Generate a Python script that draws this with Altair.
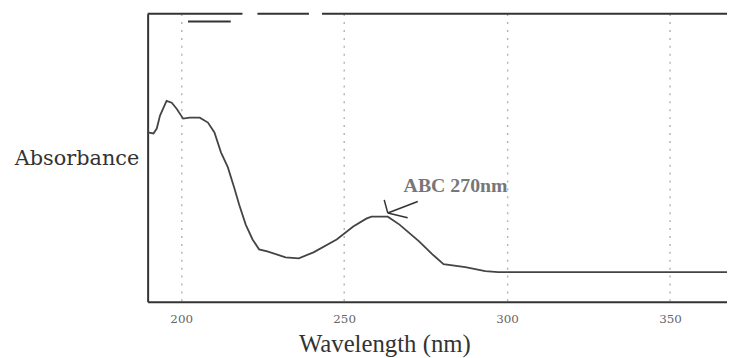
import altair as alt
import pandas as pd

# Spectrum (wavelength in nm, absorbance in arbitrary units)
wavelength = [189.7, 191.5, 192.5, 193.5, 195.5, 197.1, 198.6, 200.6, 202.6, 205.7,
              208.2, 210.2, 212.2, 214.3, 216.3, 217.8, 219.8, 221.9, 223.9, 226.4,
              232.0, 236.1, 240.6, 247.7, 252.8, 256.8, 258.4, 263.4, 267.0, 273.0,
              277.1, 280.5, 287.2, 293.3, 297.3, 367.5]
absorbance = [1.71, 1.70, 1.75, 1.88, 2.03, 2.01, 1.95, 1.85, 1.86, 1.86,
              1.81, 1.71, 1.51, 1.36, 1.15, 0.98, 0.78, 0.63, 0.53, 0.51,
              0.45, 0.44, 0.50, 0.63, 0.76, 0.84, 0.86, 0.86, 0.78, 0.61,
              0.48, 0.38, 0.35, 0.31, 0.30, 0.30]

x_ticks = [200, 250, 300, 350]
x_domain = [189.7, 367.5]
y_domain = [0, 2.91]

# broken top frame line and the short dash below it
top_start = [189.7, 223.4, 243.2, 202.1]
top_end = [218.8, 239.2, 367.5, 215.2]
top_level = [2.91, 2.91, 2.91, 2.83]

# annotation arrow (tail -> tip, and two barbs)
arrow_x1 = [272.6, 262.3, 269.5]
arrow_y1 = [1.013, 1.03, 0.85]
arrow_x2 = [263.4, 263.4, 263.4]
arrow_y2 = [0.897, 0.897, 0.897]
label_text = ["ABC 270nm"]
label_x = [284.2]
label_y = [1.11]

spec = pd.DataFrame({"wl": wavelength, "A": absorbance})
tops = pd.DataFrame({"x1": top_start, "x2": top_end, "y": top_level})
arrows = pd.DataFrame({"x1": arrow_x1, "y1": arrow_y1, "x2": arrow_x2, "y2": arrow_y2})
labels = pd.DataFrame({"t": label_text, "x": label_x, "y": label_y})

xs = alt.Scale(domain=x_domain, nice=False, zero=False)
ys = alt.Scale(domain=y_domain, nice=False, zero=True)

x_axis = alt.Axis(
    values=x_ticks, format="d", ticks=False,
    labelFont="DejaVu Serif", labelFontSize=12, labelColor="#666",
    labelBaseline="middle", labelPadding=17,
    domainColor="#333", domainWidth=2,
    grid=True, gridDash=[2, 6], gridColor="#b5b5b5", gridWidth=1.5,
    title="Wavelength (nm)", titleFont="Liberation Serif", titleFontSize=25,
    titleFontWeight="normal", titleColor="#333",
    titleX=239, titleY=50, titleBaseline="alphabetic", titleAlign="center",
)
y_axis = alt.Axis(
    labels=False, ticks=False, grid=False,
    domainColor="#333", domainWidth=2,
    title="Absorbance", titleAngle=0, titleAlign="right", titleBaseline="middle",
    titleX=-9, titleY=146, titleFont="DejaVu Serif", titleFontSize=21,
    titleFontWeight="normal", titleColor="#333",
)

line = alt.Chart(spec).mark_line(color="#444", strokeWidth=1.8).encode(
    x=alt.X("wl:Q", scale=xs, axis=x_axis),
    y=alt.Y("A:Q", scale=ys, axis=y_axis),
)

top = alt.Chart(tops).mark_rule(color="#333", strokeWidth=2).encode(
    x=alt.X("x1:Q", scale=xs), x2="x2:Q", y=alt.Y("y:Q", scale=ys)
)

arrow = alt.Chart(arrows).mark_rule(color="#333", strokeWidth=1.5).encode(
    x=alt.X("x1:Q", scale=xs), x2="x2:Q",
    y=alt.Y("y1:Q", scale=ys), y2="y2:Q",
)

text = alt.Chart(labels).mark_text(
    font="Liberation Serif", fontSize=20, fontWeight="bold", color="#777",
    align="center", baseline="alphabetic",
).encode(
    x=alt.X("x:Q", scale=xs), y=alt.Y("y:Q", scale=ys), text="t:N"
)

chart = alt.layer(line, top, arrow, text).properties(
    width=585, height=291,
    autosize=alt.AutoSizeParams(type="none"),
    padding={"left": 141, "top": 4, "right": 0, "bottom": 55},
    background="white",
).configure_view(stroke=None)

chart.save("out.html", embed_options={"renderer": "svg", "actions": False})
